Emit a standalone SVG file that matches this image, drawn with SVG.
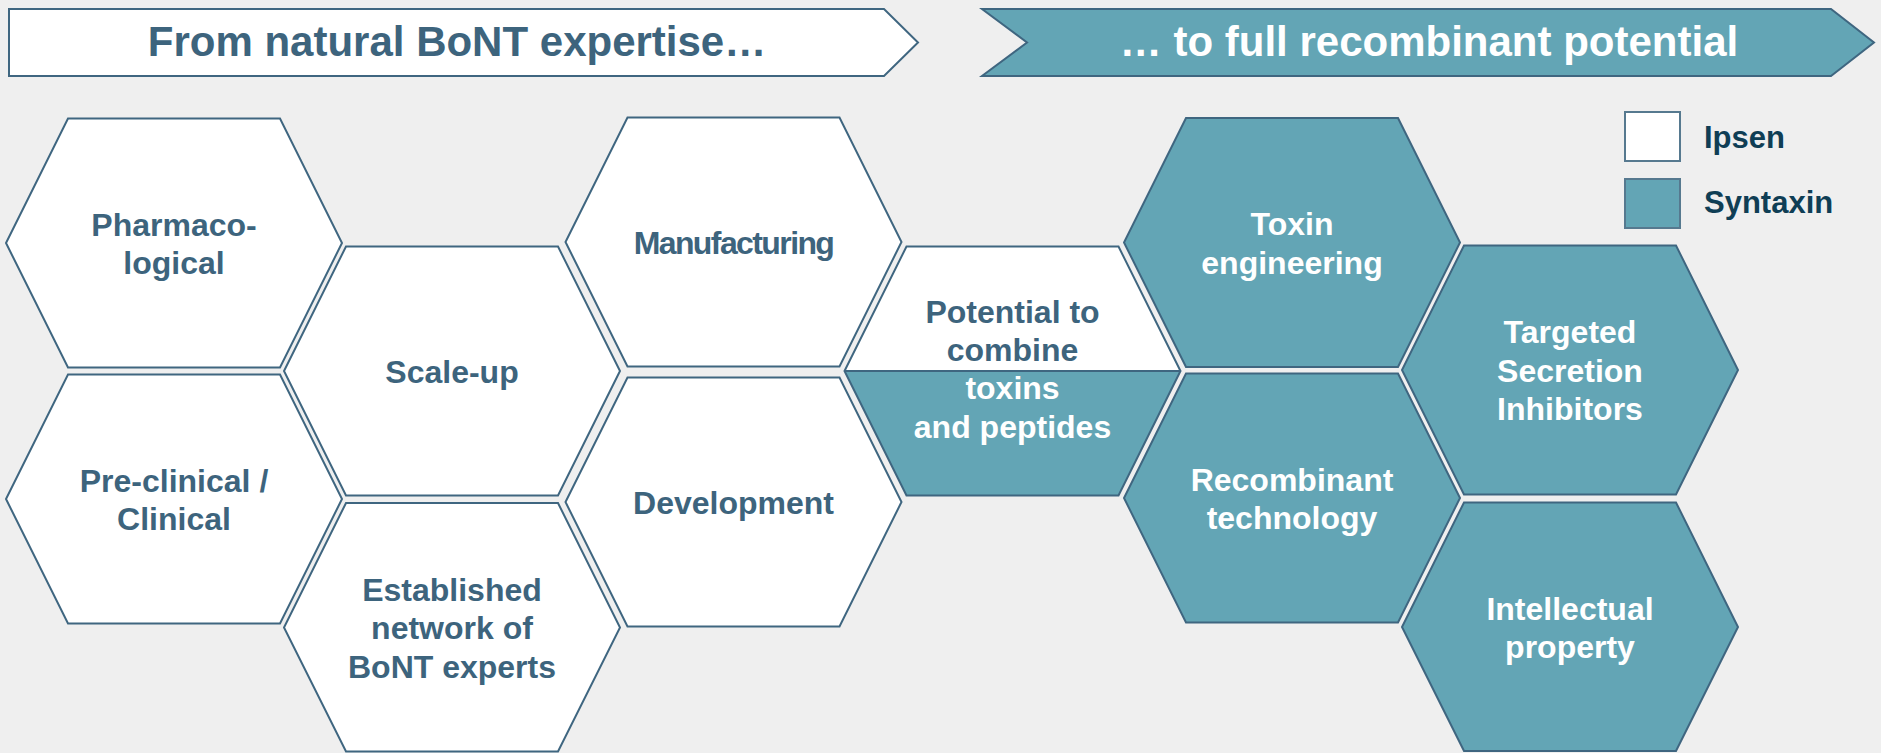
<svg xmlns="http://www.w3.org/2000/svg" width="1881" height="753" viewBox="0 0 1881 753">
<style>
  .bg { fill: #efefef; }
  .hw { fill: #ffffff; stroke: #3f6680; stroke-width: 2; stroke-linejoin: miter; }
  .ht { fill: #63a5b5; stroke: #3f6680; stroke-width: 2; stroke-linejoin: miter; }
  .nofill { fill: none; stroke: #3f6680; stroke-width: 2; }
  text { font-family: "Liberation Sans", Arial, sans-serif; font-weight: bold; text-anchor: middle; }
  .td { fill: #3d647d; font-size: 32px; }
  .tw { fill: #ffffff; font-size: 32px; }
  .banner { font-size: 42px; }
  .leg { fill: #0f3e55; font-size: 31px; text-anchor: start; }
  .lbox-w { fill: #ffffff; stroke: #56798f; stroke-width: 2; }
  .lbox-t { fill: #63a5b5; stroke: #56798f; stroke-width: 2; }
</style>
<rect class="bg" x="0" y="0" width="1881" height="753"/>

<g id="banner-left">
  <polygon class="hw" points="9,9 884,9 918,42.5 884,76 9,76"/>
  <text class="td banner" x="457" y="56">From natural BoNT expertise…</text>
</g>
<g id="banner-right">
  <polygon class="ht" points="982,9 1831,9 1874,42.5 1831,76 982,76 1027,42.5"/>
  <text class="tw banner" x="1429" y="56">… to full recombinant potential</text>
</g>

<g id="legend">
  <g id="legend-ipsen">
    <rect class="lbox-w" x="1625" y="112" width="55" height="49"/>
    <text class="leg" x="1704" y="148">Ipsen</text>
  </g>
  <g id="legend-syntaxin">
    <rect class="lbox-t" x="1625" y="179" width="55" height="49"/>
    <text class="leg" x="1704" y="213">Syntaxin</text>
  </g>
</g>

<g id="connectors"></g>

<g id="hex-pharmacological">
  <polygon class="hw" points="68,118.5 280,118.5 342,243 280,367.5 68,367.5 6,243"/>
  <text class="td" x="174" y="235.5">Pharmaco-</text>
  <text class="td" x="174" y="274">logical</text>
</g>
<g id="hex-preclinical">
  <polygon class="hw" points="68,374.5 280,374.5 342,499 280,623.5 68,623.5 6,499"/>
  <text class="td" x="174" y="491.5">Pre-clinical /</text>
  <text class="td" x="174" y="530">Clinical</text>
</g>
<g id="hex-scaleup">
  <polygon class="hw" points="346,246.5 558,246.5 620,371 558,495.5 346,495.5 284,371"/>
  <text class="td" x="452" y="382.5">Scale-up</text>
</g>
<g id="hex-network">
  <polygon class="hw" points="346,503 558,503 620,627.5 558,751.5 346,751.5 284,627.5"/>
  <text class="td" x="452" y="600.5">Established</text>
  <text class="td" x="452" y="639">network of</text>
  <text class="td" x="452" y="677.5">BoNT experts</text>
</g>
<g id="hex-manufacturing">
  <polygon class="hw" points="627.5,117.5 839.5,117.5 901.5,242 839.5,366.5 627.5,366.5 565.5,242"/>
  <text class="td" x="733.5" y="253.5" letter-spacing="-1.6">Manufacturing</text>
</g>
<g id="hex-development">
  <polygon class="hw" points="627.5,377.5 839.5,377.5 901.5,502 839.5,626.5 627.5,626.5 565.5,502"/>
  <text class="td" x="733.5" y="513.5">Development</text>
</g>
<g id="hex-potential">
  <polygon fill="#ffffff" points="906.5,246.5 1118.5,246.5 1180.5,371 844.5,371"/>
  <polygon fill="#63a5b5" points="844.5,371 1180.5,371 1118.5,495.5 906.5,495.5"/>
  <line class="nofill" x1="844.5" y1="371" x2="1180.5" y2="371"/>
  <polygon class="nofill" points="906.5,246.5 1118.5,246.5 1180.5,371 1118.5,495.5 906.5,495.5 844.5,371"/>
  <text class="td" x="1012.5" y="322.5">Potential to</text>
  <text class="td" x="1012.5" y="361">combine</text>
  <text class="tw" x="1012.5" y="399">toxins</text>
  <text class="tw" x="1012.5" y="438">and peptides</text>
</g>
<g id="hex-toxin-engineering">
  <polygon class="ht" points="1186,118 1398,118 1460,242.5 1398,367 1186,367 1124,242.5"/>
  <text class="tw" x="1292" y="235">Toxin</text>
  <text class="tw" x="1292" y="273.5">engineering</text>
</g>
<g id="hex-recombinant">
  <polygon class="ht" points="1186,373.5 1398,373.5 1460,498 1398,622.5 1186,622.5 1124,498"/>
  <text class="tw" x="1292" y="490.5">Recombinant</text>
  <text class="tw" x="1292" y="529">technology</text>
</g>
<g id="hex-tsi">
  <polygon class="ht" points="1464,245.5 1676,245.5 1738,370 1676,494.5 1464,494.5 1402,370"/>
  <text class="tw" x="1570" y="343">Targeted</text>
  <text class="tw" x="1570" y="381.5">Secretion</text>
  <text class="tw" x="1570" y="420">Inhibitors</text>
</g>
<g id="hex-ip">
  <polygon class="ht" points="1464,502.5 1676,502.5 1738,627 1676,751 1464,751 1402,627"/>
  <text class="tw" x="1570" y="619.5">Intellectual</text>
  <text class="tw" x="1570" y="658">property</text>
</g>
</svg>
